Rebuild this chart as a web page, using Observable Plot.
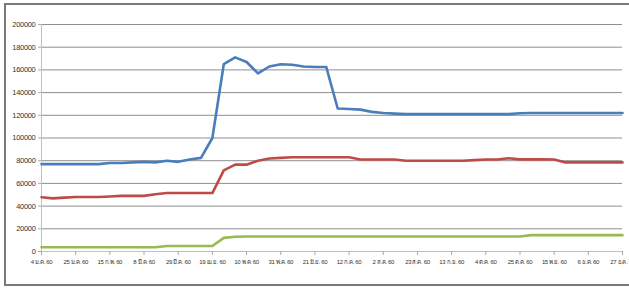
<!DOCTYPE html>
<html>
<head>
<meta charset="utf-8">
<script src="https://cdn.jsdelivr.net/npm/d3@7"></script>
<script src="https://cdn.jsdelivr.net/npm/@observablehq/plot@0.6"></script>
<style>
  html, body { margin: 0; padding: 0; background: #fff; }
  #wrap { position: relative; width: 629px; height: 289px; overflow: hidden; }
  #frame { position: absolute; left: 4px; top: 3px; width: 660px; height: 283px; border: 2px solid #7a7a7a; box-sizing: border-box; pointer-events: none; }
  #chart { position: absolute; left: 0; top: 0; }
  .xax text { letter-spacing: -0.35px; }
  .yax text { letter-spacing: -0.3px; }
</style>
</head>
<body>
<div id="wrap"><div id="chart"></div><div id="frame"></div></div>
<script>
// x-axis tick labels (every third week)
const tickLabels = ["4 ม.ค. 60","25 ม.ค. 60","15 ก.พ. 60","8 มี.ค. 60","29 มี.ค. 60","19 เม.ย. 60","10 พ.ค. 60","31 พ.ค. 60","21 มิ.ย. 60","12 ก.ค. 60","2 ส.ค. 60","23 ส.ค. 60","13 ก.ย. 60","4 ต.ค. 60","25 ต.ค. 60","15 พ.ย. 60","6 ธ.ค. 60","27 ธ.ค. 60"];
const yTicks = [0,20000,40000,60000,80000,100000,120000,140000,160000,180000,200000];

// weekly series (52 weeks)
const blue = [77000,77000,77000,77000,77000,77000,78000,78000,78500,79000,78500,80000,79000,81000,82500,100000,
  165000,171000,167000,157000,163000,165000,164500,163000,162500,162500,
  126000,125500,125000,123000,122000,121500,121000,121000,121000,121000,121000,121000,121000,121000,121000,121000,
  121800,122000,122000,122000,122000,122000,122000,122000,122000,122000];
const red = [47800,46800,47500,48000,48000,48000,48500,49000,49000,49000,50500,51500,51500,51500,51500,51500,
  71500,76500,76500,80000,82000,82500,83000,83000,83000,83000,83000,83000,
  81000,81000,81000,81000,80000,80000,80000,80000,80000,80000,80500,81000,81000,82200,81200,81200,81200,81000,
  78500,78500,78500,78500,78500,78500];
const green = [3800,3800,3800,3800,3800,3800,3800,3800,3800,3800,3800,4800,4800,4800,4800,4800,
  12000,13000,13200,13200,13200,13200,13200,13200,13200,13200,13200,13200,13200,13200,13200,13200,13200,13200,13200,
  13200,13200,13200,13200,13200,13200,13200,13200,14400,14400,14400,14400,14400,14400,14400,14400,14400];

const rows = (arr, s) => arr.map((v, i) => ({i, v, s}));
const data = [...rows(blue, "blue"), ...rows(red, "red"), ...rows(green, "green")];
const colors = {blue: "#4a7ebb", red: "#be4b48", green: "#98b954"};
const xTicks = tickLabels.map((_, k) => k * 3);

const chart = Plot.plot({
  width: 629, height: 289,
  marginLeft: 41, marginRight: 7, marginTop: 24, marginBottom: 38,
  style: {fontFamily: "'Liberation Sans', sans-serif", color: "#333", background: "transparent"},
  x: {domain: [0, 51], label: null},
  y: {domain: [0, 200000], label: null},
  marks: [
    Plot.ruleY(yTicks.slice(1), {stroke: "#8f8f8f", strokeWidth: 1, strokeOpacity: 1}),
    Plot.ruleX([0], {stroke: "#c0c0c0", strokeWidth: 1}),
    Plot.ruleY([0], {stroke: "#c0c0c0", strokeWidth: 1}),
    Plot.axisY({ticks: yTicks, tickSize: 3, tickPadding: 3, fontSize: 7.5, stroke: "#aaa", tickFormat: d => String(d), color: "#333", className: "yax"}),
    Plot.axisX({ticks: xTicks, tickSize: 4, tickPadding: 4, fontSize: 6, stroke: "#aaa", tickFormat: i => tickLabels[i / 3], className: "xax"}),
    Plot.line(data, {x: "i", y: "v", z: "s", stroke: d => colors[d.s], strokeWidth: 2.6, strokeLinejoin: "round"})
  ]
});
document.getElementById("chart").appendChild(chart);
</script>
</body>
</html>
